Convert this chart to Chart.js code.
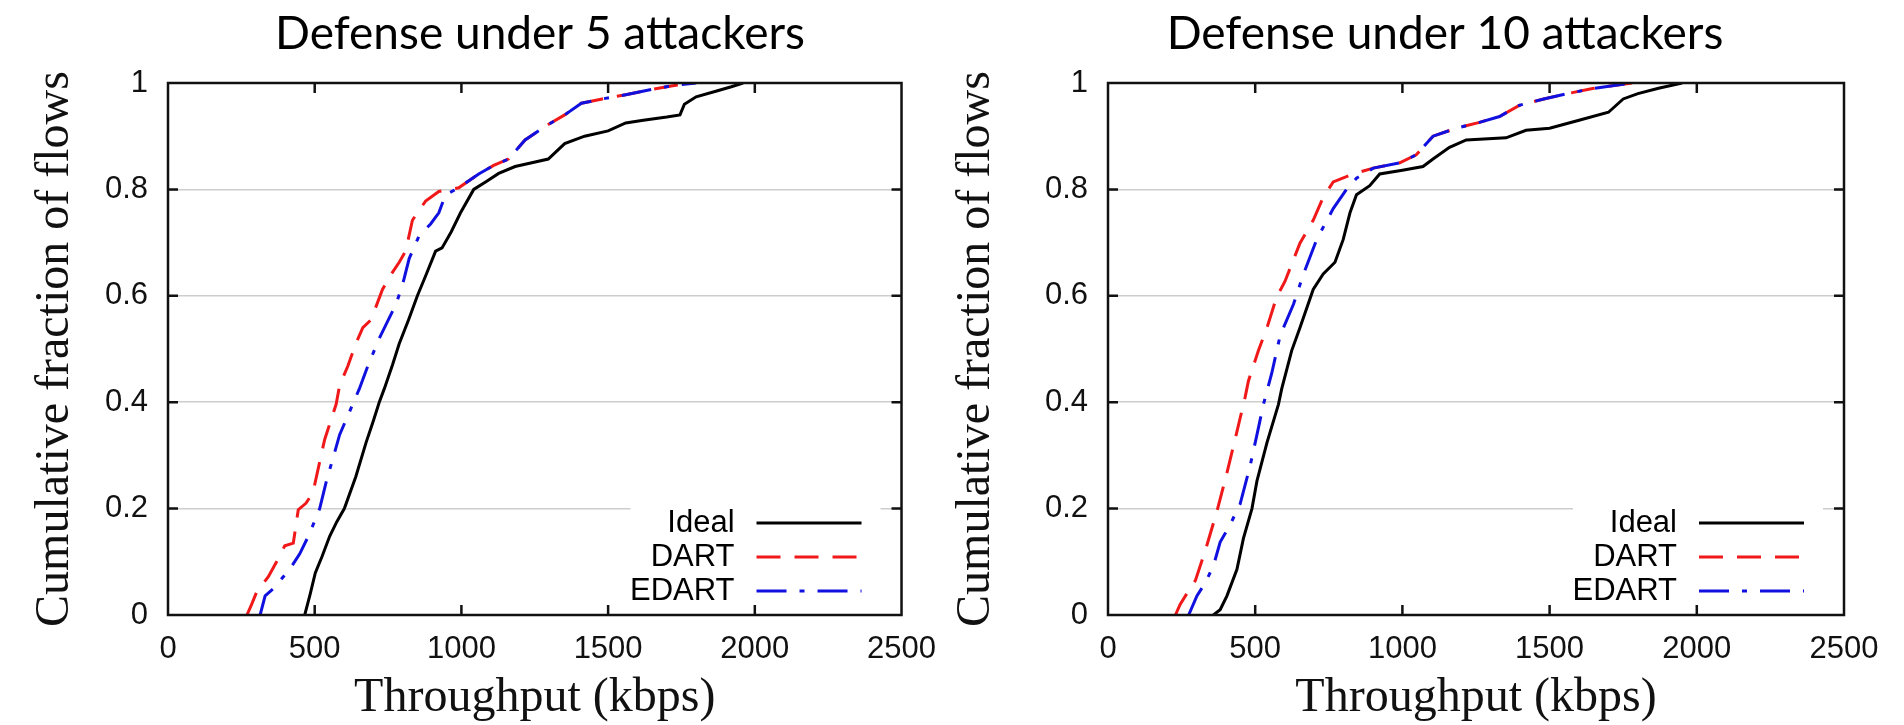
<!DOCTYPE html>
<html>
<head>
<meta charset="utf-8">
<script src="https://cdn.jsdelivr.net/npm/chart.js@4.4.1/dist/chart.umd.min.js"></script>
<style>
    body { margin: 0; background: #fff; }
    .wrap { position: relative; width: 1904px; height: 725px; }
    .panel { position: absolute; top: 0; width: 952px; height: 725px; }
</style>
</head>
<body>
<div class="wrap">
    <div class="panel" style="left:0"><canvas id="chart5" width="952" height="725"></canvas></div>
    <div class="panel" style="left:952px"><canvas id="chart10" width="952" height="725"></canvas></div>
</div>
<script>
const seriesNames = ['Ideal', 'DART', 'EDART'];
const xTicks = [0, 500, 1000, 1500, 2000, 2500];
const yTicks = [0, 0.2, 0.4, 0.6, 0.8, 1];

// 5 attackers
const ideal5X = [466, 485, 502, 525, 551, 575, 601, 640, 675, 700, 720, 737, 765, 788, 820, 850, 880, 912, 934, 965, 997, 1042, 1085, 1127, 1183, 1240, 1296, 1352, 1420, 1500, 1560, 1620, 1700, 1745, 1760, 1800, 1870, 1920, 1960];
const ideal5Y = [0, 0.04, 0.079, 0.11, 0.148, 0.175, 0.2, 0.26, 0.324, 0.365, 0.4, 0.425, 0.47, 0.51, 0.555, 0.6, 0.64, 0.684, 0.69, 0.72, 0.756, 0.8, 0.815, 0.83, 0.843, 0.85, 0.857, 0.886, 0.9, 0.91, 0.925, 0.93, 0.936, 0.94, 0.96, 0.974, 0.985, 0.993, 1];
const dart5X = [269, 285, 302, 342, 370, 398, 427, 444, 470, 494, 517, 534, 573, 585, 613, 640, 664, 692, 731, 760, 788, 810, 833, 855, 878, 923, 991, 1059, 1110, 1160, 1217, 1296, 1352, 1409, 1480, 1560, 1650, 1720, 1790];
const dart5Y = [0, 0.02, 0.043, 0.072, 0.1, 0.13, 0.135, 0.198, 0.21, 0.23, 0.288, 0.33, 0.396, 0.432, 0.468, 0.51, 0.54, 0.555, 0.612, 0.64, 0.663, 0.684, 0.742, 0.76, 0.778, 0.796, 0.803, 0.829, 0.845, 0.857, 0.893, 0.922, 0.94, 0.962, 0.97, 0.978, 0.988, 0.995, 1];
const edart5X = [314, 331, 360, 390, 415, 449, 480, 517, 540, 565, 585, 607, 652, 681, 720, 777, 799, 822, 856, 895, 923, 946, 991, 1059, 1110, 1160, 1217, 1296, 1352, 1409, 1480, 1560, 1650, 1720, 1800];
const edart5Y = [0, 0.036, 0.05, 0.07, 0.086, 0.115, 0.15, 0.2, 0.252, 0.3, 0.339, 0.367, 0.425, 0.468, 0.52, 0.584, 0.62, 0.67, 0.713, 0.735, 0.756, 0.79, 0.803, 0.829, 0.845, 0.857, 0.893, 0.922, 0.94, 0.962, 0.97, 0.978, 0.988, 0.995, 1];

// 10 attackers
const ideal10X = [358, 381, 404, 438, 460, 489, 506, 540, 579, 590, 624, 652, 697, 731, 771, 799, 822, 844, 889, 923, 1000, 1070, 1104, 1160, 1217, 1352, 1420, 1500, 1600, 1700, 1750, 1800, 1870, 1950];
const ideal10Y = [0, 0.01, 0.036, 0.086, 0.144, 0.2, 0.252, 0.324, 0.396, 0.425, 0.497, 0.54, 0.612, 0.641, 0.663, 0.706, 0.756, 0.79, 0.807, 0.829, 0.836, 0.843, 0.857, 0.879, 0.893, 0.897, 0.911, 0.915, 0.93, 0.945, 0.97, 0.98, 0.99, 1];
const dart10X = [229, 245, 263, 297, 331, 370, 404, 432, 466, 477, 511, 540, 573, 601, 652, 697, 731, 765, 833, 901, 991, 1047, 1070, 1104, 1183, 1262, 1330, 1397, 1480, 1560, 1650, 1780];
const dart10Y = [0, 0.02, 0.036, 0.065, 0.122, 0.195, 0.267, 0.331, 0.41, 0.44, 0.497, 0.54, 0.598, 0.627, 0.699, 0.742, 0.785, 0.814, 0.829, 0.84, 0.85, 0.865, 0.879, 0.9, 0.915, 0.926, 0.937, 0.958, 0.97, 0.98, 0.99, 1];
const edart10X = [274, 302, 330, 359, 381, 415, 449, 483, 506, 528, 556, 585, 630, 664, 709, 765, 810, 844, 901, 991, 1047, 1070, 1104, 1183, 1262, 1330, 1397, 1480, 1560, 1650, 1780];
const edart10Y = [0, 0.036, 0.06, 0.094, 0.137, 0.17, 0.209, 0.281, 0.339, 0.396, 0.454, 0.526, 0.584, 0.641, 0.706, 0.764, 0.8, 0.821, 0.84, 0.85, 0.865, 0.879, 0.9, 0.915, 0.926, 0.937, 0.958, 0.97, 0.98, 0.99, 1];

const sansFont = '"Liberation Sans", Arial, sans-serif';
const serifFont = '"Liberation Serif", "Times New Roman", serif';

// title above each panel (drawn by hand so it can sit off-centre like the original)
const panelTitle = {
    id: 'panelTitle',
    afterDraw(chart, args, opts) {
        const ctx = chart.ctx;
        ctx.save();
        ctx.font = '46px Lato, "Open Sans", sans-serif';
        ctx.fillStyle = '#000';
        ctx.textAlign = 'center';
        ctx.textBaseline = 'middle';
        ctx.fillText(opts.text, opts.x, opts.y);
        ctx.restore();
    }
};

// gnuplot style key: label on the left, line sample on the right, inside the plot
const innerLegend = {
    id: 'innerLegend',
    afterDatasetsDraw(chart) {
        const { ctx, chartArea: a } = chart;
        ctx.save();
        ctx.fillStyle = '#fff';
        ctx.fillRect(a.right - 271, a.bottom - 112, 250, 108);
        ctx.font = '31px ' + sansFont;
        ctx.textAlign = 'right';
        ctx.textBaseline = 'middle';
        chart.data.datasets.forEach((ds, i) => {
            const y = a.bottom - 92 + i * 34;
            ctx.fillStyle = '#000';
            ctx.fillText(ds.label, a.right - 167, y);
            ctx.strokeStyle = ds.borderColor;
            ctx.lineWidth = ds.borderWidth;
            ctx.setLineDash(ds.borderDash || []);
            ctx.beginPath();
            ctx.moveTo(a.right - 145, y);
            ctx.lineTo(a.right - 40, y);
            ctx.stroke();
        });
        ctx.restore();
    }
};

// box round the plot with inward tick marks on all four sides
const plotFrame = {
    id: 'plotFrame',
    afterDatasetsDraw(chart) {
        const { ctx, chartArea: a, scales } = chart;
        const tick = 10;
        ctx.save();
        ctx.strokeStyle = '#111';
        ctx.lineWidth = 2.5;
        ctx.setLineDash([]);
        ctx.beginPath();
        scales.x.ticks.forEach(t => {
            if (t.value === scales.x.min || t.value === scales.x.max) return;
            const px = scales.x.getPixelForValue(t.value);
            ctx.moveTo(px, a.bottom); ctx.lineTo(px, a.bottom - tick);
            ctx.moveTo(px, a.top); ctx.lineTo(px, a.top + tick);
        });
        scales.y.ticks.forEach(t => {
            if (t.value === scales.y.min || t.value === scales.y.max) return;
            const py = scales.y.getPixelForValue(t.value);
            ctx.moveTo(a.left, py); ctx.lineTo(a.left + tick, py);
            ctx.moveTo(a.right, py); ctx.lineTo(a.right - tick, py);
        });
        ctx.stroke();
        ctx.strokeRect(a.left, a.top, a.width, a.height);
        ctx.restore();
    }
};

function toPoints(xs, ys) {
    return xs.map((x, i) => ({ x: x, y: ys[i] }));
}

function makePanel(canvasId, panel) {
    const styles = [
        { color: '#000000', dash: [], order: 2 },
        { color: '#f01818', dash: [24, 14], order: 1 },
        { color: '#1010e0', dash: [30, 13, 5, 13], order: 0 }
    ];
    const datasets = panel.series.map((s, i) => ({
        label: seriesNames[i],
        data: toPoints(s[0], s[1]),
        borderColor: styles[i].color,
        borderDash: styles[i].dash,
        borderWidth: 3,
        order: styles[i].order,
        pointRadius: 0,
        tension: 0,
        fill: false
    }));

    return new Chart(document.getElementById(canvasId), {
        type: 'line',
        data: { datasets: datasets },
        plugins: [panelTitle, innerLegend, plotFrame],
        options: {
            responsive: false,
            animation: false,
            devicePixelRatio: 1,
            layout: { padding: { left: 0, right: panel.padRight, top: 83, bottom: 0 } },
            plugins: {
                legend: { display: false },
                tooltip: { enabled: false },
                panelTitle: { text: panel.title, x: panel.titleX, y: 34 }
            },
            scales: {
                x: {
                    type: 'linear',
                    min: 0,
                    max: 2500,
                    afterBuildTicks: (scale) => { scale.ticks = xTicks.map(v => ({ value: v })); },
                    afterFit: (scale) => { scale.height = 110; },
                    grid: { display: false, drawTicks: false },
                    border: { display: false },
                    ticks: {
                        padding: 16,
                        color: '#111',
                        font: { family: sansFont, size: 31 },
                        maxRotation: 0,
                        callback: (v) => String(v)
                    },
                    title: {
                        display: true,
                        text: 'Throughput (kbps)',
                        color: '#111',
                        font: { family: serifFont, size: 48, lineHeight: 1 },
                        padding: { top: 0, bottom: 3 }
                    }
                },
                y: {
                    type: 'linear',
                    min: 0,
                    max: 1,
                    afterBuildTicks: (scale) => { scale.ticks = yTicks.map(v => ({ value: v })); },
                    afterFit: (scale) => { scale.width = panel.yAxisWidth; },
                    grid: {
                        drawTicks: false,
                        lineWidth: 1.5,
                        color: (c) => (c.tick && (c.tick.value === 0 || c.tick.value === 1)) ? 'rgba(0,0,0,0)' : '#cdcdcd'
                    },
                    border: { display: false },
                    ticks: {
                        padding: 20,
                        color: '#111',
                        font: { family: sansFont, size: 31 },
                        callback: (v) => String(Number(v.toFixed(1)))
                    },
                    title: {
                        display: true,
                        text: 'Cumulative fraction of flows',
                        color: '#111',
                        font: { family: serifFont, size: 48, lineHeight: 1 },
                        padding: { top: panel.yTitlePad, bottom: 0 }
                    }
                }
            }
        }
    });
}

makePanel('chart5', {
    title: 'Defense under 5 attackers',
    titleX: 540,
    padRight: 48,
    yAxisWidth: 168,
    yTitlePad: 31,
    series: [[ideal5X, ideal5Y], [dart5X, dart5Y], [edart5X, edart5Y]]
});

makePanel('chart10', {
    title: 'Defense under 10 attackers',
    titleX: 493,
    padRight: 60,
    yAxisWidth: 156,
    yTitlePad: 0,
    series: [[ideal10X, ideal10Y], [dart10X, dart10Y], [edart10X, edart10Y]]
});
</script>
</body>
</html>
